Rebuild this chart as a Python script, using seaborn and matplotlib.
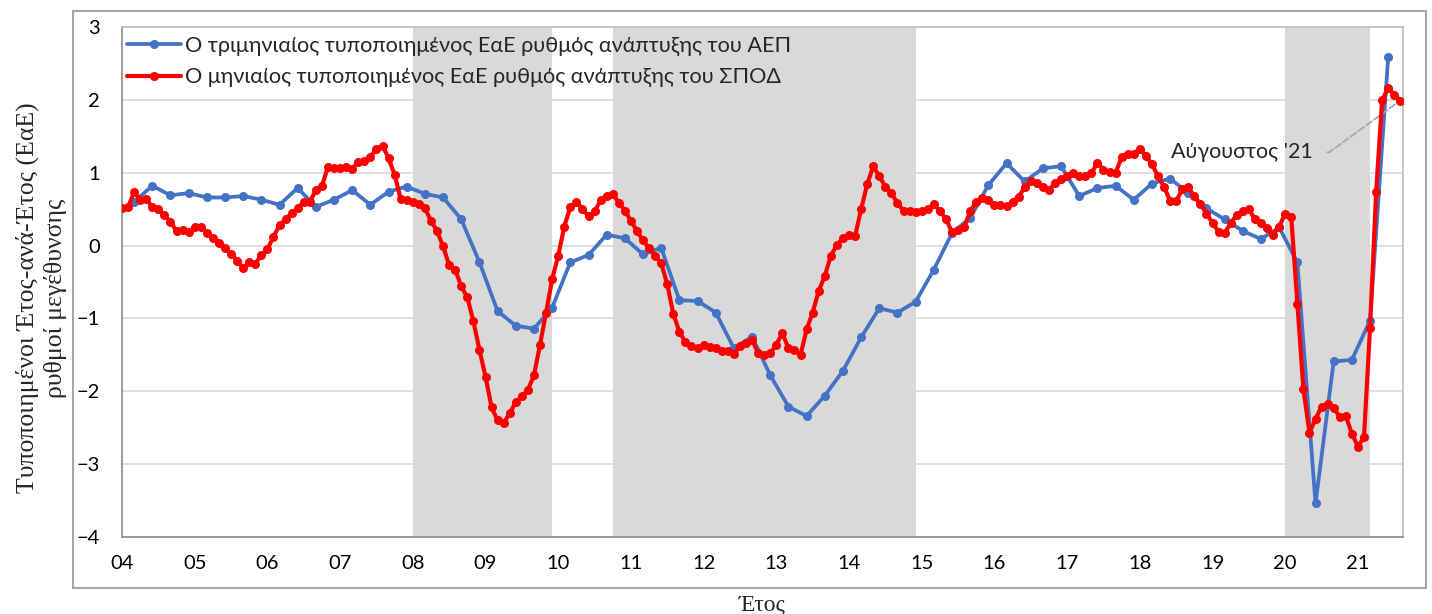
import numpy as np
import pandas as pd
import matplotlib
matplotlib.use('Agg')
import matplotlib.pyplot as plt
import seaborn as sns
from matplotlib.patches import Rectangle

sns.set_style('white')
plt.rcParams['font.family'] = ['Lato', 'DejaVu Sans']

# quarterly GDP yoy standardised growth, 2004Q1 .. 2021Q2 (plotted at last month of quarter)
gdp_q = [0.60, 0.82, 0.69, 0.72,
         0.66, 0.66, 0.68, 0.63,
         0.56, 0.79, 0.53, 0.63,
         0.76, 0.56, 0.74, 0.81,
         0.71, 0.66, 0.36, -0.23,
         -0.90, -1.10, -1.14, -0.85,
         -0.23, -0.13, 0.15, 0.10,
         -0.12, -0.03, -0.75, -0.76,
         -0.92, -1.41, -1.25, -1.78,
         -2.21, -2.34, -2.06, -1.72,
         -1.26, -0.86, -0.92, -0.77,
         -0.33, 0.17, 0.38, 0.83,
         1.13, 0.88, 1.06, 1.09,
         0.68, 0.79, 0.82, 0.63,
         0.85, 0.92, 0.72, 0.51,
         0.36, 0.20, 0.09, 0.25,
         -0.23, -3.54, -1.59, -1.57,
         -1.03, 2.59]

# monthly ESI yoy standardised growth, Jan 2004 .. Aug 2021
esi_m = [0.51, 0.53, 0.73, 0.63, 0.64, 0.53, 0.50, 0.42, 0.33, 0.20, 0.22, 0.18,
         0.25, 0.26, 0.17, 0.11, 0.04, -0.03, -0.11, -0.21, -0.31, -0.23, -0.25, -0.13,
         -0.05, 0.12, 0.28, 0.36, 0.45, 0.51, 0.60, 0.60, 0.76, 0.82, 1.08, 1.07,
         1.07, 1.08, 1.05, 1.15, 1.16, 1.22, 1.32, 1.37, 1.20, 0.97, 0.64, 0.62,
         0.60, 0.57, 0.51, 0.34, 0.20, -0.01, -0.27, -0.33, -0.56, -0.71, -1.04, -1.43,
         -1.80, -2.22, -2.40, -2.44, -2.30, -2.15, -2.07, -1.98, -1.78, -1.36, -0.92, -0.46,
         -0.14, 0.26, 0.53, 0.60, 0.50, 0.40, 0.47, 0.62, 0.68, 0.71, 0.59, 0.48,
         0.34, 0.20, 0.07, -0.04, -0.14, -0.24, -0.53, -0.94, -1.18, -1.33, -1.38, -1.41,
         -1.37, -1.39, -1.41, -1.45, -1.45, -1.49, -1.38, -1.34, -1.29, -1.48, -1.50, -1.48,
         -1.36, -1.20, -1.41, -1.44, -1.50, -1.15, -0.92, -0.62, -0.42, -0.14, 0.01, 0.10,
         0.15, 0.13, 0.50, 0.84, 1.09, 0.95, 0.81, 0.72, 0.58, 0.48, 0.47, 0.46,
         0.47, 0.50, 0.57, 0.47, 0.37, 0.18, 0.22, 0.25, 0.47, 0.60, 0.65, 0.62,
         0.56, 0.56, 0.54, 0.60, 0.67, 0.80, 0.88, 0.86, 0.81, 0.76, 0.86, 0.92,
         0.95, 1.00, 0.95, 0.95, 0.99, 1.14, 1.04, 1.01, 1.00, 1.21, 1.26, 1.26,
         1.33, 1.23, 1.12, 0.95, 0.81, 0.61, 0.61, 0.77, 0.80, 0.68, 0.57, 0.44,
         0.31, 0.19, 0.17, 0.31, 0.42, 0.47, 0.50, 0.36, 0.31, 0.24, 0.15, 0.26,
         0.44, 0.39, -0.80, -1.97, -2.57, -2.38, -2.21, -2.17, -2.23, -2.35, -2.34, -2.58,
         -2.76, -2.63, -1.13, 0.73, 2.00, 2.16, 2.07, 1.99]

# recession / crisis shading (first month, last month)
shaded = [((2008, 1), (2009, 12)), ((2010, 10), (2014, 12)), ((2020, 1), (2021, 3))]

years = list(range(2004, 2022))
year_labels = ['%02d' % (y % 100) for y in years]

label_gdp = 'Ο τριμηνιαίος τυποποιημένος ΕαΕ ρυθμός ανάπτυξης του ΑΕΠ'
label_esi = 'Ο μηνιαίος τυποποιημένος ΕαΕ ρυθμός ανάπτυξης του ΣΠΟΔ'


def ym(y, m):
    return y + (m - 1) / 12.0


df_q = pd.DataFrame({'x': [ym(2004, 3) + 0.25 * k for k in range(len(gdp_q))], 'v': gdp_q})
df_m = pd.DataFrame({'x': [ym(2004, 1) + k / 12.0 for k in range(len(esi_m))], 'v': esi_m})

fig = plt.figure(figsize=(14.32, 6.14), dpi=100)
ax = fig.add_axes([122 / 1432, 1 - 537 / 614, (1403 - 122) / 1432, (537 - 27) / 614])

for (a, b) in shaded:
    ax.axvspan(ym(*a), ym(*b), color='#d9d9d9', lw=0, zorder=0)

ax.grid(axis='y', color='#d9d9d9', lw=1.2, zorder=0.5)
ax.set_axisbelow(True)

sns.lineplot(data=df_q, x='x', y='v', ax=ax, color='#4472C4', lw=2.7, marker='o',
             markersize=6.5, markeredgewidth=0, label=label_gdp, zorder=3)
sns.lineplot(data=df_m, x='x', y='v', ax=ax, color='#FF0000', lw=3.0, marker='o',
             markersize=6.5, markeredgewidth=0, label=label_esi, zorder=4)

ax.set_xlim(2004, 2021.62)
ax.set_ylim(-4, 3)
ax.set_yticks(range(-4, 4))
ax.set_xticks(years)
ax.set_xticklabels(year_labels)
ax.tick_params(axis='both', length=0, labelsize=14.5, colors='black')
ax.tick_params(axis='y', pad=16)
ax.tick_params(axis='x', pad=13)
ax.set_xlabel('')
ax.set_ylabel('')
for s in ax.spines.values():
    s.set_color('#bfbfbf')
    s.set_linewidth(1.2)
ax.spines['left'].set_color('#8c8c8c')
ax.spines['bottom'].set_color('#8c8c8c')

leg = ax.legend(loc='upper left', bbox_to_anchor=(-0.008, 1.012), frameon=False, fontsize=15.6,
                handlelength=2.5, handletextpad=0.2, labelspacing=0.5, borderaxespad=0.3)

last_x = df_m['x'].iloc[-1]
last_y = df_m['v'].iloc[-1]
ax.annotate("Αύγουστος '21", xy=(last_x, last_y), xytext=(2020.38, 1.28),
            ha='right', va='center', fontsize=15.5,
            arrowprops=dict(arrowstyle='-', linestyle='--', color='#a6a6a6', lw=1.3,
                            shrinkA=8, shrinkB=0,
                            connectionstyle='angle,angleA=0,angleB=36,rad=0'))

serif = ['Liberation Serif', 'DejaVu Serif']
fig.text(41 / 1432, 1 - 298 / 614, 'Τυποποιημένοι Έτος-ανά-Έτος (ΕαΕ)\nρυθμοί μεγέθυνσης',
         rotation=90, ha='center', va='center', multialignment='center',
         fontsize=18.5, family=serif, linespacing=1.3)
fig.text(762 / 1432, 1 - 605 / 614, 'Έτος', ha='center', va='center', fontsize=17, family=serif)

fig.add_artist(Rectangle((73 / 1432, 1 - 588 / 614), (1426 - 73) / 1432, (588 - 11) / 614,
                         transform=fig.transFigure, fill=False, edgecolor='#a6a6a6', lw=1.5))

fig.savefig('out.png', dpi=100)
